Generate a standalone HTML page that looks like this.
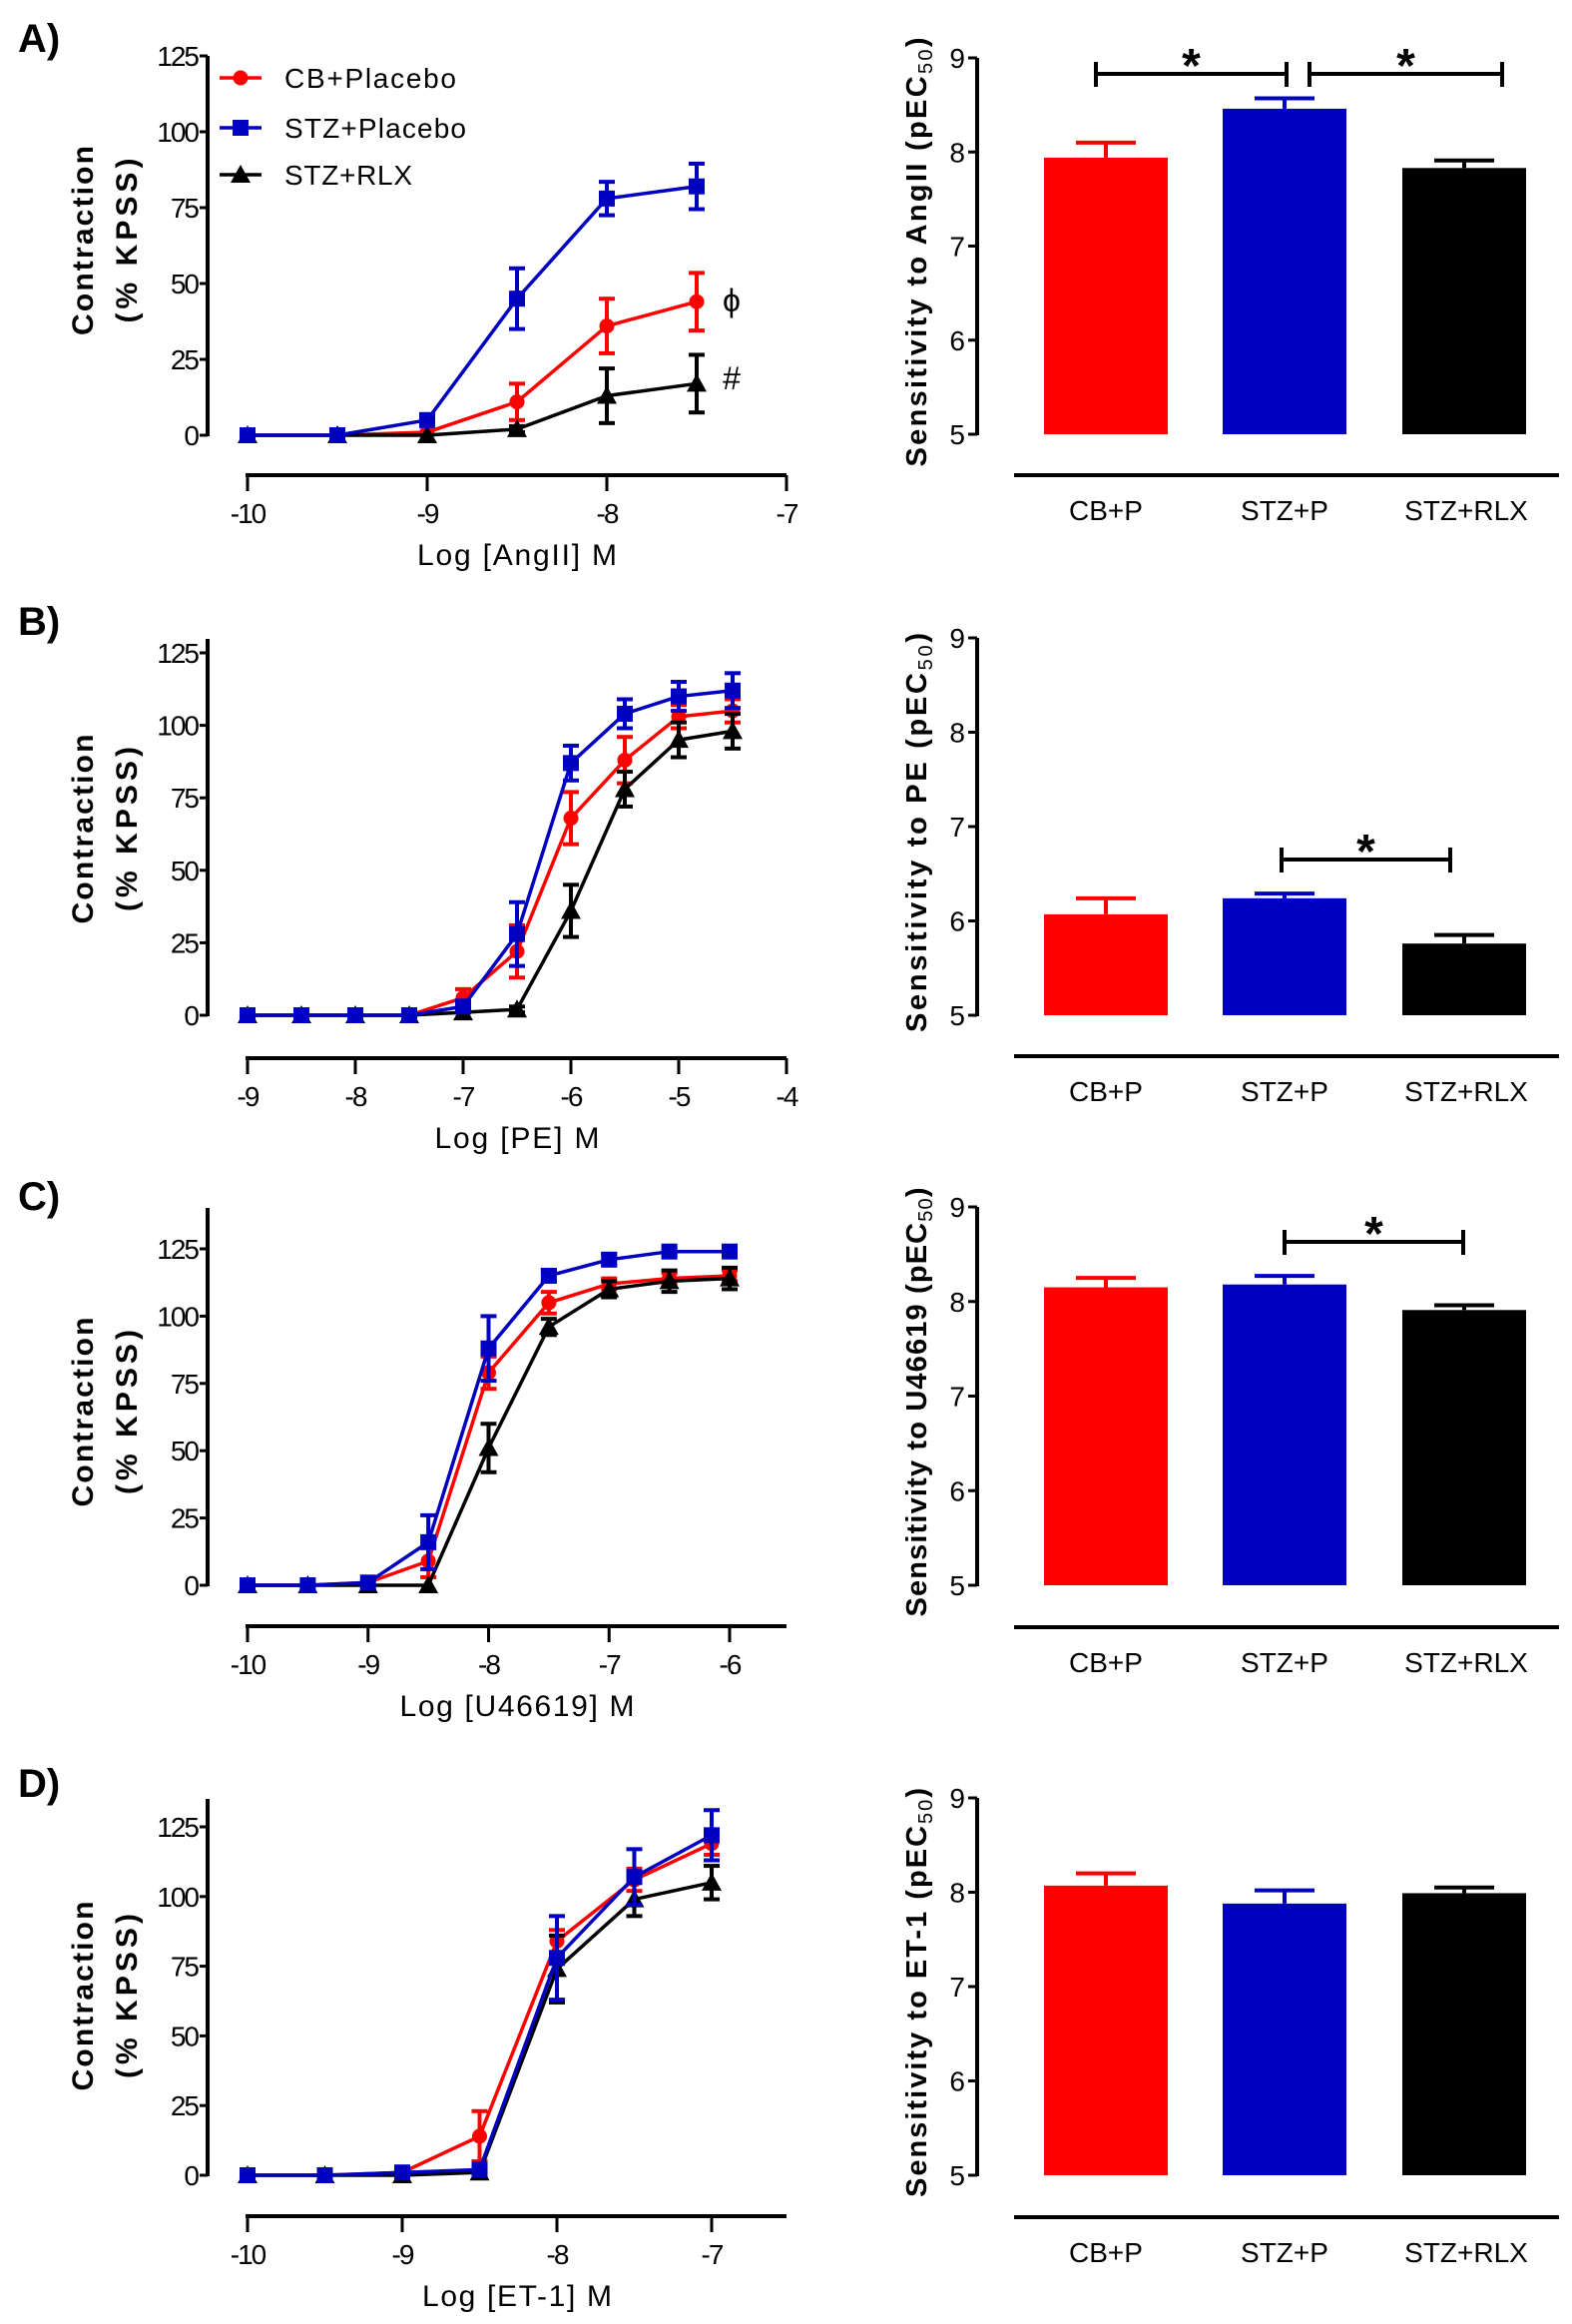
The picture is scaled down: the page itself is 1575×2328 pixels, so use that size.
<!DOCTYPE html>
<html><head><meta charset="utf-8"><style>
html,body{margin:0;padding:0;background:#fff;}
svg{display:block;}
text{font-family:"Liberation Sans",Arial,sans-serif;}
</style></head><body>
<svg id="fig" width="1575" height="2328" viewBox="0 0 1575 2328" xmlns="http://www.w3.org/2000/svg"></svg>
<script>
// ---------- DATA ----------
const xA = [-10,-9.5,-9,-8.5,-8,-7.5];
const aRed = [0,0,1,11,36,44];      const aRedErr = [0,0,0,6,9,9.5];
const aBlue = [0,0,5,45,78,82];     const aBlueErr = [0,0,1,10,5.5,7.5];
const aBlack = [0,0,0,2,13,17];     const aBlackErr = [0,0,0,1,9,9.5];
const xB = [-9,-8.5,-8,-7.5,-7,-6.5,-6,-5.5,-5,-4.5];
const bRed = [0,0,0,0,6,22,68,88,103,105];   const bRedErr = [0,0,0,0,3,9,9,8,4,4];
const bBlue = [0,0,0,0,3,28,87,104,110,112]; const bBlueErr = [0,0,0,0,2,11,6,5,5,6];
const bBlack = [0,0,0,0,1,2,36,78,95,98];    const bBlackErr = [0,0,0,0,0,1,9,6,6,6];
const xC = [-10,-9.5,-9,-8.5,-8,-7.5,-7,-6.5,-6];
const cRed = [0,0,1,9,79,105,112,114,115];   const cRedErr = [0,0,0,6,6,4,2,2,2];
const cBlue = [0,0,1,16,88,115,121,124,124]; const cBlueErr = [0,0,0,10,12,2,2,1,1];
const cBlack = [0,0,0,0,51,96,110,113,114];  const cBlackErr = [0,0,0,0,9,3,3,4,4];
const xD = [-10,-9.5,-9,-8.5,-8,-7.5,-7];
const dRed = [0,0,1,14,84,106,119];   const dRedErr = [0,0,0,9,4,4,4];
const dBlue = [0,0,1,2,78,107,122];   const dBlueErr = [0,0,1,1,15,10,9];
const dBlack = [0,0,0,1,74,99,105];   const dBlackErr = [0,0,0,0,12,6,6];
const groups = ["CB+P","STZ+P","STZ+RLX"];
const barA = [7.94,8.46,7.83]; const barAErr = [0.16,0.11,0.08];
const barB = [6.07,6.24,5.76]; const barBErr = [0.17,0.05,0.09];
const barC = [8.15,8.18,7.91]; const barCErr = [0.10,0.09,0.05];
const barD = [8.07,7.88,7.99]; const barDErr = [0.13,0.14,0.06];
const yTicksLeft = [0,25,50,75,100,125];
const yTicksBar = [5,6,7,8,9];
const seriesNames = ["CB+Placebo","STZ+Placebo","STZ+RLX"];

// ---------- DRAW ----------
const NS="http://www.w3.org/2000/svg";
const svg=document.getElementById('fig');
const RED="#ff0000", BLUE="#0000c0", BLK="#000000";
function mk(tag,attrs,parent){const e=document.createElementNS(NS,tag);for(const k in attrs)e.setAttribute(k,attrs[k]);(parent||svg).appendChild(e);return e;}
function txt(s,attrs,parent){const e=mk('text',attrs,parent);e.textContent=s;return e;}

function marker(g,shape,x,y,color){
  let e;
  if(shape==='circle'){e=mk('circle',{cx:x,cy:y,r:7.5,fill:color},g);}
  else if(shape==='square'){e=mk('rect',{x:x-8,y:y-8,width:16,height:16,fill:color},g);}
  else {e=mk('polygon',{points:`${x},${y-10} ${x+10},${y+8} ${x-10},${y+8}`,fill:color},g);}
  return e;
}

function lineChart(o){
  const g=mk('g',{});
  
  
  const X=v=>o.x0+(v-o.xmin)/(o.xmax-o.xmin)*(o.x1-o.x0);
  const Y=v=>o.y0-v/125*(o.y0-o.y125);
  const ya=mk('line',{x1:208,y1:o.axTop,x2:208,y2:o.y0+1,stroke:'#000','stroke-width':4},g);
  
  
  yTicksLeft.forEach(t=>{
    mk('line',{x1:200,y1:Y(t),x2:208,y2:Y(t),stroke:'#000','stroke-width':3},g);
    const tl=txt(String(t),{x:198,y:Y(t)+10,'font-size':28,'text-anchor':'end','letter-spacing':-2},g);
    
    
  });
  const yc=(o.y0+o.y125)/2-5;
  const t1=txt('Contraction',{x:0,y:0,'font-size':30,'font-weight':'bold','text-anchor':'middle',textLength:190,transform:`translate(93,${yc}) rotate(-90)`},g);
  
  
  const t2=txt('(%  KPSS)',{x:0,y:0,'font-size':30,'font-weight':'bold','text-anchor':'middle',textLength:165,transform:`translate(137,${yc}) rotate(-90)`},g);
  
  
  const xa=mk('line',{x1:o.x0-2,y1:o.xAxY,x2:788,y2:o.xAxY,stroke:'#000','stroke-width':4},g);
  
  
  o.xt.forEach(t=>{
    mk('line',{x1:X(t),y1:o.xAxY,x2:X(t),y2:o.xAxY+16,stroke:'#000','stroke-width':3},g);
    const tl=txt(String(t),{x:X(t),y:o.xAxY+48,'font-size':28,'text-anchor':'middle','letter-spacing':-2},g);
    
    
  });
  const xt=txt(o.xtitle,{x:518,y:o.xAxY+90,'font-size':30,'text-anchor':'middle',textLength:o.xtl},g);
  
  
  const ser=[[o.red,o.redE,RED,'circle','cb-placebo'],[o.black,o.blackE,BLK,'triangle','stz-rlx'],[o.blue,o.blueE,BLUE,'square','stz-placebo']];
  ser.forEach(s=>{
    const sg=mk('g',{},g);
    
    
    const pts=o.xs.map((x,i)=>X(x)+','+Y(s[0][i])).join(' ');
    mk('polyline',{points:pts,fill:'none',stroke:s[2],'stroke-width':3.5},sg);
    o.xs.forEach((x,i)=>{
      const e=s[1][i];
      if(e>0){
        const ys=Y(s[0][i]+e), yl=Y(s[0][i]-e);
        mk('line',{x1:X(x),y1:ys,x2:X(x),y2:yl,stroke:s[2],'stroke-width':4},sg);
        mk('line',{x1:X(x)-8,y1:ys,x2:X(x)+8,y2:ys,stroke:s[2],'stroke-width':4},sg);
        mk('line',{x1:X(x)-8,y1:yl,x2:X(x)+8,y2:yl,stroke:s[2],'stroke-width':4},sg);
      }
      const m=marker(sg,s[3],X(x),Y(s[0][i]),s[2]);
      
      
    });
  });
  const lab=txt(o.letter,{x:18,y:o.letterY,'font-size':40,'font-weight':'bold'},g);
  
  
  return {g,X,Y};
}

function barChart(o){
  const g=mk('g',{});
  
  
  const Y=v=>o.y5-(v-5)/4*(o.y5-o.y9);
  const ya=mk('line',{x1:979,y1:o.y9,x2:979,y2:o.y5+1,stroke:'#000','stroke-width':4},g);
  
  
  yTicksBar.forEach(t=>{
    mk('line',{x1:970,y1:Y(t),x2:979,y2:Y(t),stroke:'#000','stroke-width':3},g);
    const tl=txt(String(t),{x:967,y:Y(t)+10,'font-size':28,'text-anchor':'end'},g);
    
    
  });
  const yt=txt('',{x:0,y:0,'font-size':29,'font-weight':'bold','text-anchor':'middle',textLength:o.ttl,transform:`translate(928,${(o.y5+o.y9)/2+6}) rotate(-90)`},g);
  
  
  yt.appendChild(document.createTextNode(o.title+' (pEC'));
  const sub=mk('tspan',{'font-size':20,'font-weight':'normal',dy:6},yt);
  sub.textContent='50';
  const cl=mk('tspan',{dy:-6},yt); cl.textContent=')';
  const bl=mk('line',{x1:1016,y1:o.base,x2:1562,y2:o.base,stroke:'#000','stroke-width':4},g);
  
  
  const bx=[1046,1225,1405], cols=[RED,BLUE,BLK];
  o.vals.forEach((v,i)=>{
    const x=bx[i], w=124, c=x+w/2;
    const et=Y(v+o.errs[i]);
    mk('line',{x1:c,y1:et,x2:c,y2:Y(v),stroke:cols[i],'stroke-width':4},g);
    mk('line',{x1:c-30,y1:et,x2:c+30,y2:et,stroke:cols[i],'stroke-width':4},g);
    const r=mk('rect',{x:x,y:Y(v),width:w,height:Y(5)-Y(v),fill:cols[i]},g);
    
    
    const lt=txt(groups[i],{x:c+(i==2?2:0),y:o.base+45,'font-size':28,'text-anchor':'middle'},g);
    
    
  });
  (o.sig||[]).forEach(s=>{
    const sg=mk('g',{},g);
    
    
    mk('line',{x1:s[0],y1:s[2],x2:s[1],y2:s[2],stroke:'#000','stroke-width':4},sg);
    mk('line',{x1:s[0],y1:s[2]-12,x2:s[0],y2:s[2]+13,stroke:'#000','stroke-width':4},sg);
    mk('line',{x1:s[1],y1:s[2]-12,x2:s[1],y2:s[2]+13,stroke:'#000','stroke-width':4},sg);
    txt('*',{x:(s[0]+s[1])/2,y:s[2]+8,'font-size':48,'font-weight':'bold','text-anchor':'middle'},sg);
  });
}

lineChart({name:'angii',letter:'A)',letterY:52,xs:xA,red:aRed,redE:aRedErr,blue:aBlue,blueE:aBlueErr,black:aBlack,blackE:aBlackErr,
  xmin:-10,xmax:-7,x0:248,x1:788,y0:436,y125:56,axTop:56,xAxY:476,xt:[-10,-9,-8,-7],xtitle:'Log [AngII] M',xtl:200});
lineChart({name:'pe',letter:'B)',letterY:636,xs:xB,red:bRed,redE:bRedErr,blue:bBlue,blueE:bBlueErr,black:bBlack,blackE:bBlackErr,
  xmin:-9,xmax:-4,x0:248,x1:788,y0:1017,y125:654,axTop:640,xAxY:1060,xt:[-9,-8,-7,-6,-5,-4],xtitle:'Log [PE] M',xtl:165});
lineChart({name:'u46619',letter:'C)',letterY:1212,xs:xC,red:cRed,redE:cRedErr,blue:cBlue,blueE:cBlueErr,black:cBlack,blackE:cBlackErr,
  xmin:-10,xmax:-6,x0:248,x1:731,y0:1588,y125:1251,axTop:1210,xAxY:1629,xt:[-10,-9,-8,-7,-6],xtitle:'Log [U46619]  M',xtl:235});
lineChart({name:'et1',letter:'D)',letterY:1800,xs:xD,red:dRed,redE:dRedErr,blue:dBlue,blueE:dBlueErr,black:dBlack,blackE:dBlackErr,
  xmin:-10,xmax:-7,x0:248,x1:713,y0:2179,y125:1830,axTop:1802,xAxY:2220,xt:[-10,-9,-8,-7],xtitle:'Log [ET-1] M',xtl:190});

const leg=mk('g',{});


[[RED,'circle',78],[BLUE,'square',128],[BLK,'triangle',175]].forEach((l,i)=>{
  const eg=mk('g',{},leg);
  
  
  mk('line',{x1:220,y1:l[2],x2:262,y2:l[2],stroke:l[0],'stroke-width':3.5},eg);
  marker(eg,l[1],241,l[2],l[0]);
  txt(seriesNames[i],{x:285,y:l[2]+10,'font-size':28,textLength:[172,182,128][i]},eg);
});
const phi=txt('ϕ',{x:733,y:312,'font-size':32,'text-anchor':'middle'});


const hash=txt('#',{x:733,y:390,'font-size':32,'text-anchor':'middle'});



barChart({name:'angii',title:'Sensitivity to AngII',ttl:430,vals:barA,errs:barAErr,y9:58,y5:435,base:476,
  sig:[[1098,1289,74],[1312,1505,74]]});
barChart({name:'pe',title:'Sensitivity to PE',ttl:400,vals:barB,errs:barBErr,y9:639,y5:1017,base:1058,
  sig:[[1284,1453,861]]});
barChart({name:'u46619',title:'Sensitivity to  U46619',ttl:430,vals:barC,errs:barCErr,y9:1209,y5:1588,base:1630,
  sig:[[1287,1466,1244]]});
barChart({name:'et1',title:'Sensitivity to ET-1',ttl:410,vals:barD,errs:barDErr,y9:1801,y5:2179,base:2221,sig:[]});
</script>
</body></html>
